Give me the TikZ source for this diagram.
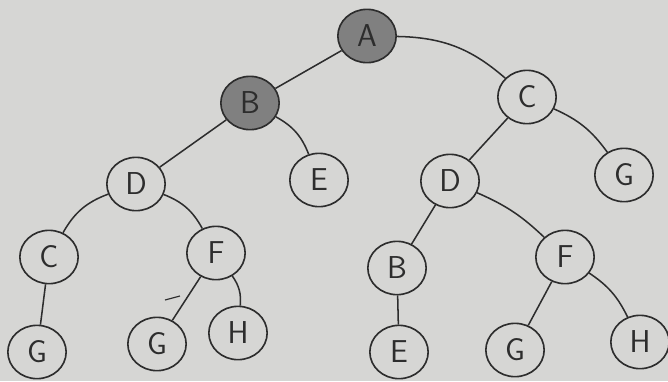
\documentclass[tikz,border=0pt]{standalone}
\usetikzlibrary{shapes.geometric}
\definecolor{paper}{RGB}{214,214,212}
\definecolor{pencil}{RGB}{45,45,45}
\definecolor{shade}{RGB}{128,128,128}
\begin{document}
\begin{tikzpicture}[x=0.03cm, y=-0.03cm,
    vertex/.style={ellipse, draw=pencil, line width=1.4pt, minimum width=1.75cm,
                   minimum height=1.6cm, inner sep=0pt, text=pencil,
                   font=\fontsize{27}{30}\selectfont\sffamily},
    marked/.style={vertex, fill=shade},
    edge/.style={draw=pencil, line width=1.3pt}]
                        \fill[paper] (0,0) rectangle (668,381);
                        \useasboundingbox (0,0) rectangle (668,381);
                        % left tree
                        \node[marked] (a) at (367,36) {A};
                        \node[marked] (b) at (250,103) {B};
                        \node[vertex] (cr) at (527,97) {C};
                        \node[vertex] (dl) at (136,184) {D};
                        \node[vertex] (el) at (319,180) {E};
                        \node[vertex] (cl) at (49,257) {C};
                        \node[vertex] (fl) at (216,253) {F};
                        \node[vertex] (g1) at (37,352) {G};
                        \node[vertex] (g2) at (157,344) {G};
                        \node[vertex] (h1) at (238,333) {H};
                        % right tree
                        \node[vertex] (dr) at (450,181) {D};
                        \node[vertex] (gr) at (624,175) {G};
                        \node[vertex] (br) at (397,268) {B};
                        \node[vertex] (fr) at (565,257) {F};
                        \node[vertex] (er) at (399,352) {E};
                        \node[vertex] (g3) at (515,350) {G};
                        \node[vertex] (h2) at (640,342) {H};
                        \draw[edge] (a) -- (b);
                        \draw[edge] (a) to[bend left=20] (cr);
                        \draw[edge] (b) -- (dl);
                        \draw[edge] (b) to[bend left=20] (el);
                        \draw[edge] (dl) to[bend right=20] (cl);
                        \draw[edge] (dl) to[bend left=20] (fl);
                        \draw[edge] (cl) -- (g1);
                        \draw[edge] (fl) -- (g2);
                        \draw[edge] (fl) to[bend left=20] (h1);
                        \draw[edge] (cr) -- (dr);
                        \draw[edge] (cr) to[bend left=15] (gr);
                        \draw[edge] (dr) -- (br);
                        \draw[edge] (dr) to[bend left=10] (fr);
                        \draw[edge] (br) -- (er);
                        \draw[edge] (fr) -- (g3);
                        \draw[edge] (fr) to[bend left=15] (h2);
                        \draw[edge, line width=1pt] (165,300) -- (180,296);
                    \end{tikzpicture}
\end{document}
